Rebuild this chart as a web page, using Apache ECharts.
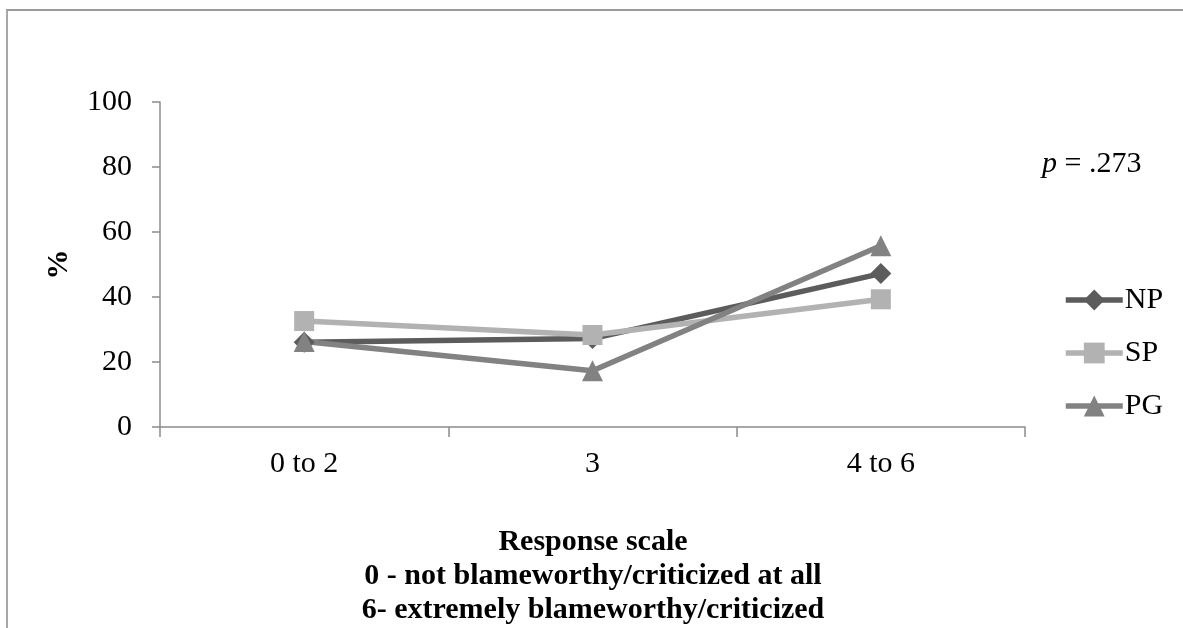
<!DOCTYPE html>
<html><head><meta charset="utf-8">
<script src="https://cdn.jsdelivr.net/npm/echarts@6/dist/echarts.min.js"></script>
<style>html,body{margin:0;padding:0;background:#fff}#c{width:1183px;height:628px}</style>
</head><body><div id="c"></div>
<script>
const categories = ['0 to 2', '3', '4 to 6'];
const npValues = [26.1, 27.2, 47.2];
const spValues = [32.6, 28.3, 39.3];
const pgValues = [26.3, 17.3, 55.8];
const yTicks = [0, 20, 40, 60, 80, 100];

const font = 'Liberation Serif, Times New Roman, serif';
const chart = echarts.init(document.getElementById('c'));
function ser(name, data, color, symbol, size) {
  return {
    name, type: 'line', data, symbol, symbolSize: size,
    lineStyle: { color, width: 5.5 }, itemStyle: { color },
    emphasis: { disabled: true }, z: 3
  };
}
chart.setOption({
  animation: false,
  backgroundColor: '#fff',
  grid: { left: 160, right: 158, top: 102, bottom: 201 },
  xAxis: {
    type: 'category', data: categories, boundaryGap: true,
    axisLine: { lineStyle: { color: '#8c8c8c', width: 1.5 } },
    axisTick: { show: true, length: 10, interval: 0, lineStyle: { color: '#8c8c8c', width: 1.5 } },
    axisLabel: { color: '#000', fontFamily: font, fontSize: 30, margin: 22 }
  },
  yAxis: {
    type: 'value', min: yTicks[0], max: yTicks[yTicks.length - 1], interval: 20,
    name: '%', nameLocation: 'middle', nameRotate: 90, nameGap: 86,
    nameTextStyle: { color: '#000', fontFamily: font, fontSize: 30, fontWeight: 'bold' },
    axisLine: { show: true, lineStyle: { color: '#8c8c8c', width: 1.5 } },
    axisTick: { show: true, length: 8, lineStyle: { color: '#8c8c8c', width: 1.5 } },
    splitLine: { show: false },
    axisLabel: { color: '#000', fontFamily: font, fontSize: 30, margin: 28 }
  },
  legend: {
    orient: 'vertical', left: 1063, top: 285, padding: 0, itemWidth: 57, itemHeight: 26, itemGap: 23,
    data: ['NP', 'SP', 'PG'],
    lineStyle: { width: 5.5 },
    textStyle: { color: '#000', fontFamily: font, fontSize: 30, padding: [0, 0, 0, -3] }
  },
  series: [
    ser('NP', npValues, '#5c5c5c', 'diamond', 21),
    ser('SP', spValues, '#b2b2b2', 'rect', 20),
    ser('PG', pgValues, '#828282', 'triangle', 21)
  ],
  graphic: [
    { type: 'line', shape: { x1: 7, y1: 9, x2: 7, y2: 628 }, style: { stroke: '#a8a8a8', lineWidth: 2 } },
    { type: 'line', shape: { x1: 7, y1: 10, x2: 1183, y2: 10 }, style: { stroke: '#9a9a9a', lineWidth: 2 } },
    { type: 'text', x: 1042, y: 164, style: {
      text: '{i|p} = .273', rich: { i: { fontStyle: 'italic', fontFamily: font, fontSize: 30, fill: '#000' } },
      font: '30px ' + font, fill: '#000', verticalAlign: 'middle' } },
    { type: 'text', x: 593, y: 576, style: {
      text: 'Response scale\n0 - not blameworthy/criticized at all\n6- extremely blameworthy/criticized',
      font: 'bold 30px ' + font, fill: '#000', align: 'center', verticalAlign: 'middle', lineHeight: 34 } }
  ]
});
</script></body></html>
